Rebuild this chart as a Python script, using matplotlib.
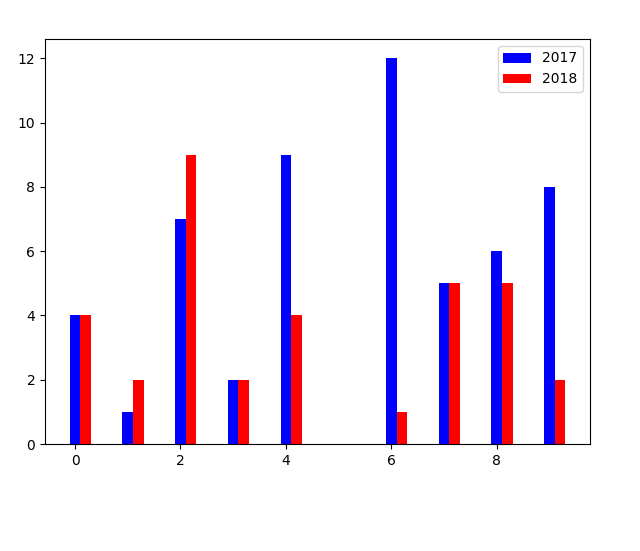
import matplotlib
matplotlib.use("Agg")
import matplotlib.pyplot as plt
import numpy as np

categories = list(range(10))
values_2017 = [4, 1, 7, 2, 9, 0, 12, 5, 6, 8]
values_2018 = [4, 2, 9, 2, 4, 0, 1, 5, 5, 2]

fig = plt.figure(figsize=(6.4, 5.51), dpi=100)
ax = fig.add_axes([45/640, 1-444/551, (590-45)/640, (444-39)/551])
x = np.array(categories)
w = 0.2
ax.bar(x, values_2017, width=w, color='blue', label='2017')
ax.bar(x + w, values_2018, width=w, color='red', label='2018')
ax.legend(loc='upper right')
fig.savefig("out.png", dpi=100)
